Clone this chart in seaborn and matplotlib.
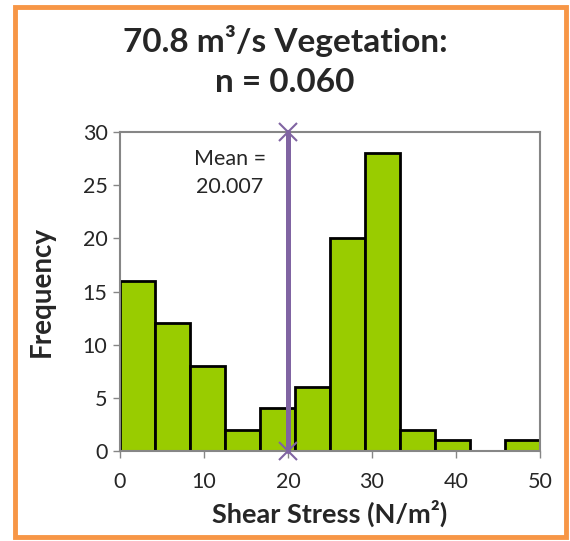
import numpy as np
import pandas as pd
import seaborn as sns
import matplotlib.pyplot as plt
from matplotlib.patches import Rectangle

# histogram data
bin_edges = [0, 4.1667, 8.3333, 12.5, 16.6667, 20.8333, 25, 29.1667, 33.3333, 37.5, 41.6667, 45.8333, 50]
counts = [16, 12, 8, 2, 4, 6, 20, 28, 2, 1, 0, 1]
mean_value = 20.007
x_ticks = [0, 10, 20, 30, 40, 50]
y_ticks = [0, 5, 10, 15, 20, 25, 30]

centers = [(a + b) / 2 for a, b in zip(bin_edges[:-1], bin_edges[1:])]
df = pd.DataFrame({'stress': centers, 'count': counts})

sns.set_style('white')
plt.rcParams['font.family'] = ['Lato', 'DejaVu Sans']

fig = plt.figure(figsize=(5.7, 5.41), dpi=100)
ax = fig.add_axes([120/570, 1 - 451/541, 420/570, (451-132)/541])

sns.histplot(data=df, x='stress', weights='count', bins=bin_edges, ax=ax,
             color='#99CC00', alpha=1, edgecolor='black', linewidth=2)

# mean line with x markers at the ends
ax.plot([mean_value, mean_value], [0, 30], color='#8064A2', linewidth=3.6,
        marker='x', markersize=13, markeredgewidth=1.5, clip_on=False, zorder=5)
ax.text(13.1, 26.1, 'Mean =\n20.007', ha='center', va='center', fontsize=15.5, linespacing=1.5)

ax.set_xlim(0, 50)
ax.set_ylim(0, 30)
ax.set_xticks(x_ticks)
ax.set_yticks(y_ticks)
ax.tick_params(axis='both', direction='out', length=5, width=1, color='#868686',
               labelsize=15.5, left=True, bottom=True)
ax.tick_params(axis='x', pad=10)
ax.tick_params(axis='y', pad=4)
for s in ax.spines.values():
    s.set_color('#868686')
    s.set_linewidth(1.5)

ax.set_xlabel('Shear Stress (N/m²)', fontsize=19.5, fontweight='bold', labelpad=6)
ax.set_ylabel('Frequency', fontsize=20, fontweight='bold', labelpad=20)
fig.text(0.5, 1 - 61/541, '70.8 m³/s Vegetation:\nn = 0.060', ha='center', va='center',
         fontsize=24, fontweight='bold', linespacing=1.45)

# orange outer frame
fig.patches.append(Rectangle((15/570, 1 - 537/541), 551/570, 530/541, transform=fig.transFigure,
                             fill=False, edgecolor='#F79646', linewidth=3.5))

fig.savefig('out.png', dpi=100)
